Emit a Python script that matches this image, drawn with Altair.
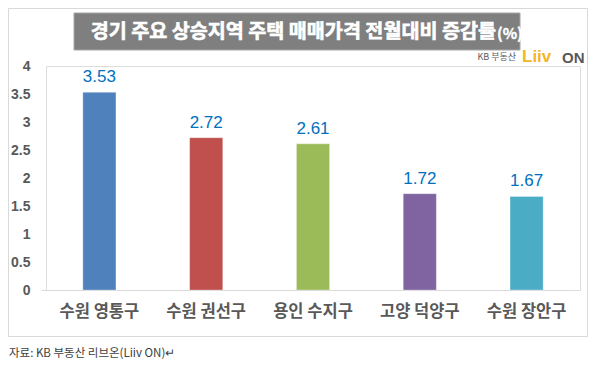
import altair as alt
import pandas as pd

regions = ["수원 영통구", "수원 권선구", "용인 수지구", "고양 덕양구", "수원 장안구"]
values = [3.53, 2.72, 2.61, 1.72, 1.67]
bar_colors = ["#4f81bd", "#c0504d", "#9bbb59", "#8064a2", "#4bacc6"]
y_ticks = [0, 0.5, 1, 1.5, 2, 2.5, 3, 3.5, 4]
title_text = "경기 주요 상승지역 주택 매매가격 전월대비 증감률"
title_unit = "(%)"
source_text = "자료: KB 부동산  리브온(Liiv ON)↵"

FONT = "Noto Sans CJK KR"

df = pd.DataFrame({"region": regions, "value": values})

x_enc = alt.X("region:N", sort=regions,
              scale=alt.Scale(paddingInner=0.69, paddingOuter=0.345),
              axis=alt.Axis(title=None, labelAngle=0, domain=False, ticks=False,
                            labelPadding=13, labelFontSize=16.5, labelColor="#595959",
                            labelFont=FONT, labelFontWeight="bold"))
y_enc = alt.Y("value:Q", scale=alt.Scale(domain=[0, 4], nice=False),
              axis=alt.Axis(title=None, values=y_ticks, format="~g", domain=False, ticks=False,
                            grid=False, labelPadding=16, labelFontSize=14, labelOverlap=False,
                            labelColor="#595959", labelFont="Liberation Sans",
                            labelFontWeight="bold"))

base = alt.Chart(df)

bars = base.mark_bar(stroke="white", strokeWidth=0.5, strokeOpacity=0.6).encode(
    x=x_enc, y=y_enc,
    color=alt.Color("region:N", sort=regions,
                    scale=alt.Scale(domain=regions, range=bar_colors), legend=None),
)

labels = base.mark_text(baseline="bottom", dy=-6, fontSize=17, color="#0070c0",
                        font="Liberation Sans").encode(
    x=x_enc, y=y_enc, text=alt.Text("value:Q", format=".2f"))

one = pd.DataFrame({"k": [0]})

baseline = alt.Chart(one).mark_rule(color="#d9d9d9", strokeWidth=1).encode(
    x=alt.value(-4), x2=alt.value(524), y=alt.value(224.5))

frame = alt.Chart(one).mark_rect(fill=None, stroke="#d9d9d9", strokeWidth=1).encode(
    x=alt.value(-37.5), x2=alt.value(541.5), y=alt.value(-57.5), y2=alt.value(270.5))

title_box = alt.Chart(one).mark_rect(fill="#7f7f7f", stroke="#a6a6a6", strokeWidth=1).encode(
    x=alt.value(28), x2=alt.value(474), y=alt.value(-53), y2=alt.value(-16))

title = alt.Chart(pd.DataFrame({"t": [title_text]})).mark_text(
    font=FONT, fontSize=19.6, fontWeight="bold", color="white", align="right",
    baseline="middle", stroke="white", strokeWidth=0.6).encode(
    text="t:N", x=alt.value(450), y=alt.value(-34))

title2 = alt.Chart(pd.DataFrame({"t": [title_unit]})).mark_text(
    font=FONT, fontSize=15, fontWeight="bold", color="white", align="left",
    baseline="middle", stroke="white", strokeWidth=0.4).encode(
    text="t:N", x=alt.value(451), y=alt.value(-32))

logo1 = alt.Chart(pd.DataFrame({"t": ["KB 부동산"]})).mark_text(
    font=FONT, fontSize=9, color="#595959", align="right", baseline="middle").encode(
    text="t:N", x=alt.value(470), y=alt.value(-9))
logo2 = alt.Chart(pd.DataFrame({"t": ["Liiv"]})).mark_text(
    font="Liberation Sans", fontSize=17, fontWeight="bold", color="#f5b528",
    align="left", baseline="middle").encode(
    text="t:N", x=alt.value(476), y=alt.value(-9))
logo3 = alt.Chart(pd.DataFrame({"t": ["ON"]})).mark_text(
    font="Liberation Sans", fontSize=15, fontWeight="bold", color="#595959",
    align="left", baseline="middle").encode(
    text="t:N", x=alt.value(516), y=alt.value(-8))

footer = alt.Chart(pd.DataFrame({"t": [source_text]})).mark_text(
    font=FONT, fontSize=11.5, color="#404040", align="left", baseline="middle").encode(
    text="t:N", x=alt.value(-37), y=alt.value(288))

chart = alt.layer(
    frame, title_box, title, title2, logo1, logo2, logo3, baseline, bars, labels, footer
).properties(
    width=534, height=224,
    autosize=alt.AutoSizeParams(type="none"),
    padding={"left": 38, "top": 58, "right": 8, "bottom": 72},
).configure_view(stroke=None).configure(background="white")

chart.save("out.html", embed_options={"renderer": "svg", "actions": False})
